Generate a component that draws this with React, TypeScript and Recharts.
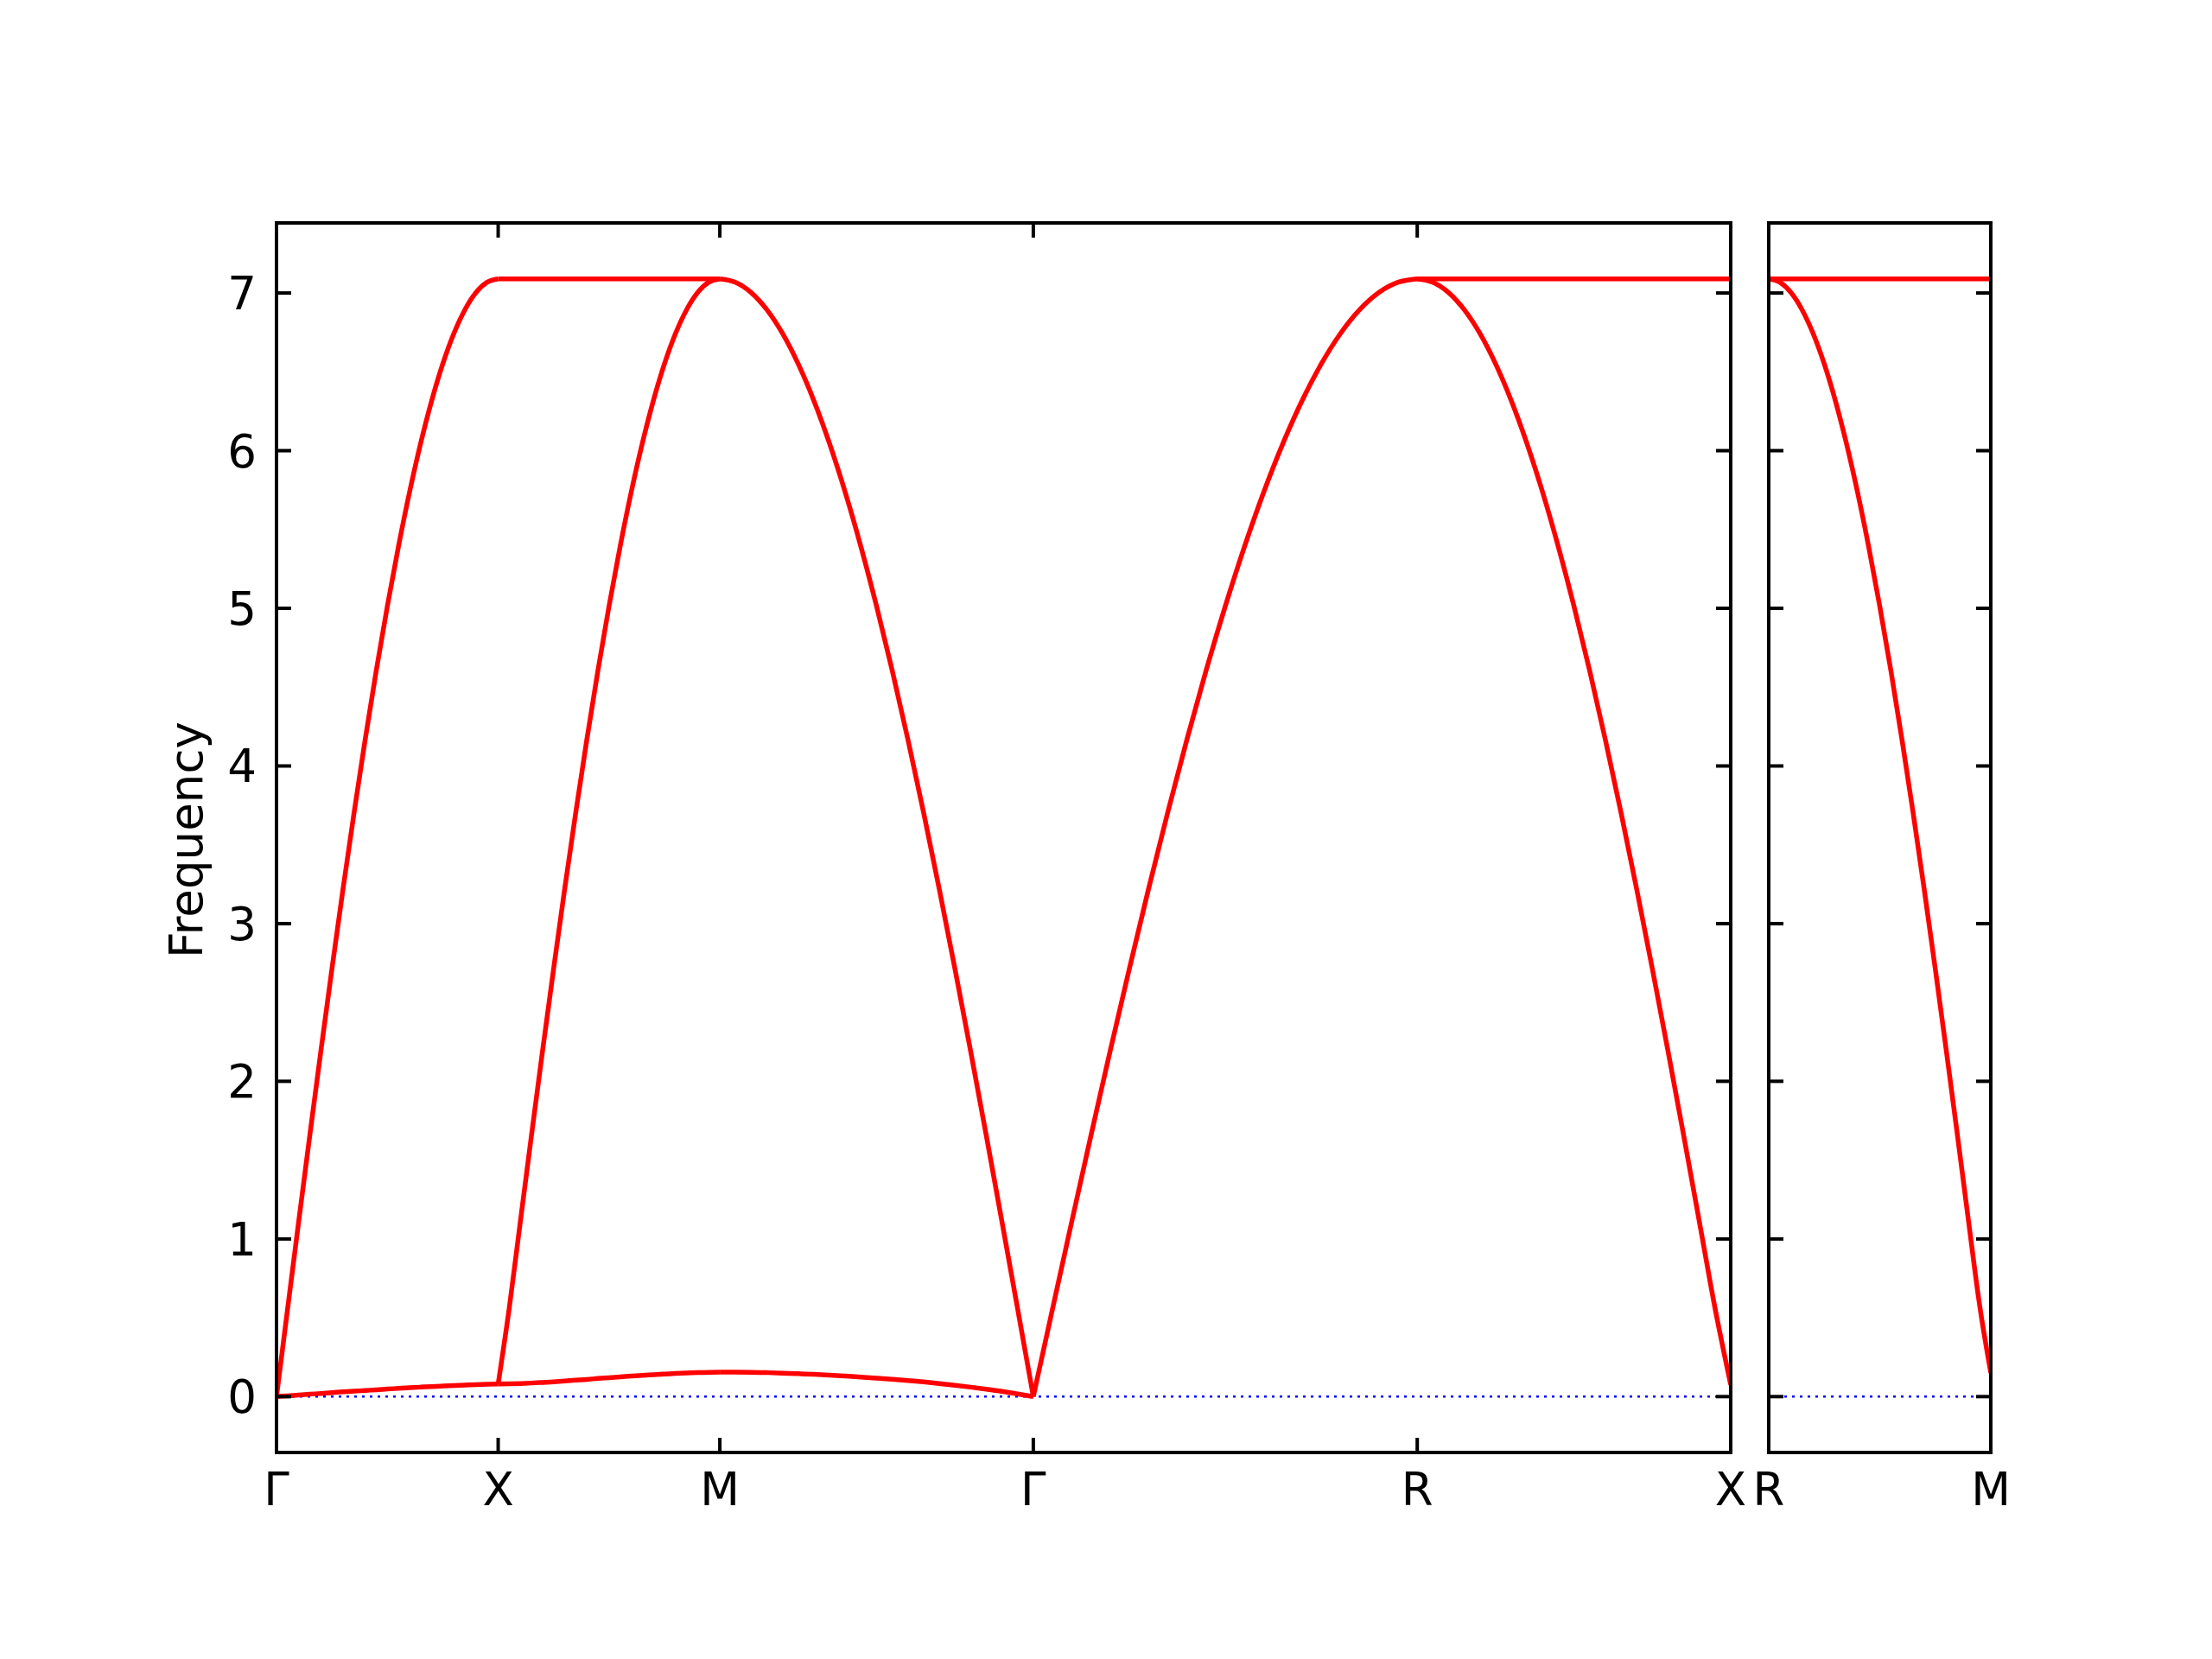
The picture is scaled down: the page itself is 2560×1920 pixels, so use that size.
import { LineChart, Line, XAxis, YAxis } from 'recharts'

// high-symmetry points along the path (k in units of 2π/a)
const leftTicks = [0, 0.5, 1.0, 1.7071, 2.5731, 3.2802]
const leftLabels = ['Γ', 'X', 'M', 'Γ', 'R', 'X']
const rightTicks = [0, 0.5]
const rightLabels = ['R', 'M']
const freqTicks = [0, 1, 2, 3, 4, 5, 6, 7]

// branch values, evenly spaced along each segment
const gxArch = [0, 0.556, 1.109, 1.655, 2.191, 2.713, 3.219, 3.705, 4.167, 4.605, 5.013, 5.391, 5.736, 6.045, 6.317, 6.55, 6.743, 6.894, 7.003, 7.068, 7.09]
const gxLow = [0, 0.005, 0.01, 0.015, 0.02, 0.025, 0.03, 0.034, 0.039, 0.043, 0.048, 0.052, 0.056, 0.06, 0.064, 0.067, 0.07, 0.073, 0.076, 0.078, 0.08]
const xmFlat = [7.09, 7.09]
const xmRise = [0.08, 0.562, 1.109, 1.655, 2.191, 2.713, 3.219, 3.705, 4.167, 4.605, 5.013, 5.391, 5.736, 6.045, 6.317, 6.55, 6.743, 6.894, 7.003, 7.068, 7.09]
const xmLow = [0.08, 0.081, 0.083, 0.086, 0.09, 0.094, 0.099, 0.104, 0.109, 0.115, 0.12, 0.125, 0.13, 0.135, 0.139, 0.143, 0.147, 0.15, 0.152, 0.154, 0.155]
const mgArch = [7.09, 7.068, 7.003, 6.894, 6.743, 6.55, 6.317, 6.045, 5.736, 5.391, 5.013, 4.605, 4.167, 3.705, 3.219, 2.713, 2.191, 1.655, 1.109, 0.556, 0]
const mgLow = [0.155, 0.155, 0.154, 0.152, 0.149, 0.145, 0.141, 0.136, 0.13, 0.124, 0.117, 0.11, 0.102, 0.093, 0.083, 0.072, 0.06, 0.047, 0.033, 0.017, 0]
const grArch = [0, 0.556, 1.109, 1.655, 2.191, 2.713, 3.219, 3.705, 4.167, 4.605, 5.013, 5.391, 5.736, 6.045, 6.317, 6.55, 6.743, 6.894, 7.003, 7.068, 7.09]
const rxFlat = [7.09, 7.09]
const rxArch = [7.09, 7.068, 7.003, 6.894, 6.743, 6.55, 6.317, 6.045, 5.736, 5.391, 5.013, 4.605, 4.167, 3.705, 3.219, 2.713, 2.191, 1.655, 1.109, 0.56, 0.075]
const rmFlat = [7.09, 7.09]
const rmArch = [7.09, 7.068, 7.003, 6.894, 6.743, 6.55, 6.317, 6.045, 5.736, 5.391, 5.013, 4.605, 4.167, 3.705, 3.219, 2.713, 2.191, 1.655, 1.11, 0.576, 0.15]
const zeroLine = [0, 0]

const FONT = 'DejaVu Sans, sans-serif'
const yDomain = [-0.3545, 7.4445]

const seg = (k0: number, k1: number, vals: number[]) =>
  vals.map((w, i) => ({ k: k0 + ((k1 - k0) * i) / (vals.length - 1), w }))

const leftSeries = [
  seg(0, 0.5, gxArch), seg(0, 0.5, gxLow),
  seg(0.5, 1.0, xmFlat), seg(0.5, 1.0, xmRise), seg(0.5, 1.0, xmLow),
  seg(1.0, 1.7071, mgArch), seg(1.0, 1.7071, mgLow),
  seg(1.7071, 2.5731, grArch),
  seg(2.5731, 3.2802, rxFlat), seg(2.5731, 3.2802, rxArch),
]
const rightSeries = [seg(0, 0.5, rmFlat), seg(0, 0.5, rmArch)]

const axisLine = { stroke: '#000', strokeWidth: 4, strokeLinecap: 'square' as const }

const bottomTick = (labels: string[]) => (p: any) => (
  <g>
    <line x1={p.x} y1={p.y} x2={p.x} y2={p.y - 17} stroke="#000" strokeWidth={4} />
    <text x={p.x} y={p.y + 61} textAnchor="middle" fontSize={53} fontFamily={FONT} fill="#000">
      {labels[p.index]}
    </text>
  </g>
)
const topTick = (p: any) => <line x1={p.x} y1={p.y} x2={p.x} y2={p.y + 17} stroke="#000" strokeWidth={4} />
const leftTick = (withLabel: boolean) => (p: any) => (
  <g>
    <line x1={p.x} y1={p.y} x2={p.x + 17} y2={p.y} stroke="#000" strokeWidth={4} />
    {withLabel && (
      <text x={p.x - 23} y={p.y + 19} textAnchor="end" fontSize={53} fontFamily={FONT} fill="#000">
        {p.payload.value}
      </text>
    )}
  </g>
)
const rightTick = (p: any) => <line x1={p.x} y1={p.y} x2={p.x - 17} y2={p.y} stroke="#000" strokeWidth={4} />

const freqLabel = () => (
  <text x={234} y={972} transform="rotate(-90, 234, 972)" textAnchor="middle" fontSize={53} fontFamily={FONT} fill="#000">
    Frequency
  </text>
)

function Panel({ width, margin, domain, ticks, labels, series, left, yLabel }: any) {
  return (
    <div style={{ position: 'absolute', left, top: 0 }}>
      <LineChart width={width} height={1920} margin={margin}>
        <XAxis xAxisId="b" type="number" dataKey="k" domain={domain} ticks={ticks} interval={0} height={80}
          allowDataOverflow axisLine={axisLine} tickLine={false} tickSize={0} tickMargin={0} tick={bottomTick(labels)} />
        <XAxis xAxisId="t" orientation="top" type="number" dataKey="k" domain={domain} ticks={ticks} interval={0} height={20}
          allowDataOverflow axisLine={axisLine} tickLine={false} tickSize={0} tickMargin={0} tick={topTick} />
        <YAxis yAxisId="l" type="number" domain={yDomain} ticks={freqTicks} interval={0} width={80}
          allowDataOverflow axisLine={axisLine} tickLine={false} tickSize={0} tickMargin={0} tick={leftTick(yLabel)}
          label={yLabel ? freqLabel : undefined} />
        <YAxis yAxisId="r" orientation="right" type="number" domain={yDomain} ticks={freqTicks} interval={0} width={20}
          allowDataOverflow axisLine={axisLine} tickLine={false} tickSize={0} tickMargin={0} tick={rightTick} />
        <Line xAxisId="t" yAxisId="r" data={seg(domain[0], domain[1], zeroLine)} dataKey="w" type="linear"
          stroke="#0000ff" strokeWidth={2.5} strokeDasharray="3 6" dot={false} activeDot={false} isAnimationActive={false} />
        {series.map((d: any, i: number) => (
          <Line key={i} xAxisId="b" yAxisId="l" data={d} dataKey="w" type="monotoneX"
            stroke="#ff0000" strokeWidth={5.5} dot={false} activeDot={false} isAnimationActive={false} />
        ))}
      </LineChart>
    </div>
  )
}

export default function App() {
  return (
    <div style={{ position: 'absolute', left: 0, top: 0, width: 2560, height: 1920, background: '#fff' }}>
      <Panel left={0} width={2040} margin={{ top: 238, left: 240, right: 17, bottom: 159 }}
        domain={[0, 3.2802]} ticks={leftTicks} labels={leftLabels} series={leftSeries} yLabel />
      <Panel left={2010} width={330} margin={{ top: 238, left: -43, right: 16, bottom: 159 }}
        domain={[0, 0.5]} ticks={rightTicks} labels={rightLabels} series={rightSeries} yLabel={false} />
    </div>
  )
}
